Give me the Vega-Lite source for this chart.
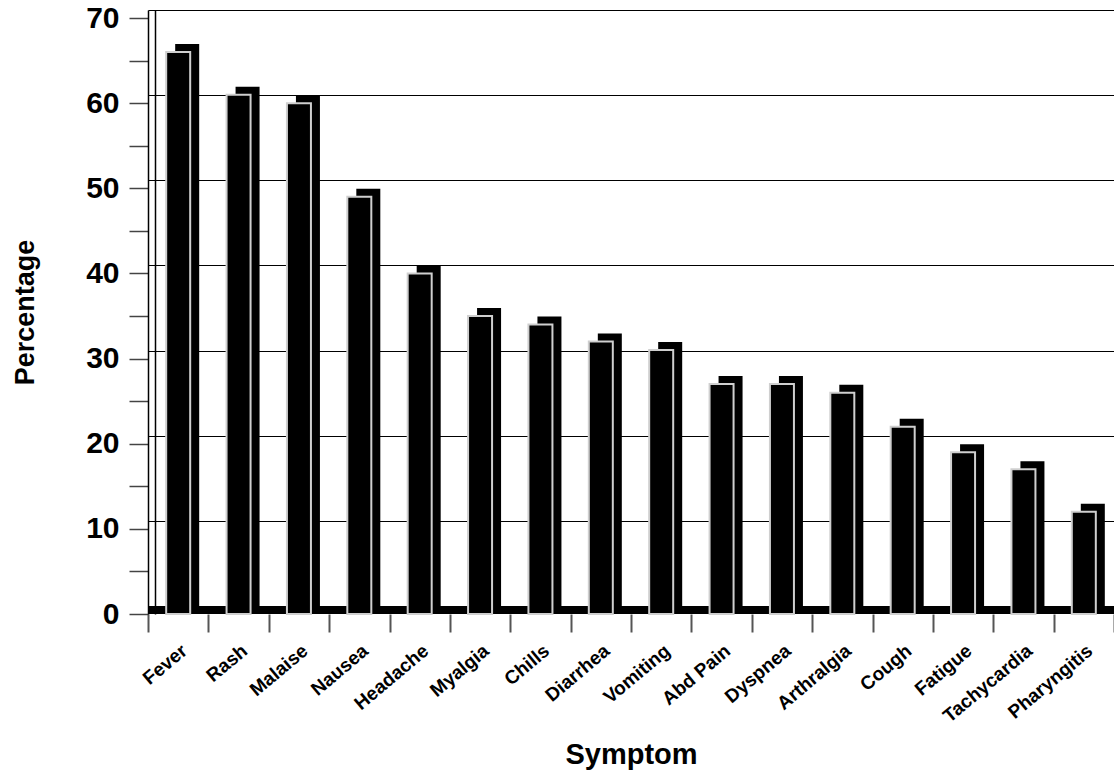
{
  "$schema": "https://vega.github.io/schema/vega-lite/v6.json",
  "width": 966,
  "height": 604,
  "autosize": {"type": "none"},
  "padding": {"left": 148, "top": 10, "right": 0, "bottom": 158},
  "config": {"view": {"stroke": null}, "font": "Liberation Sans"},
  "data": {
    "values": [
      {"symptom": "Fever", "pct": 66},
      {"symptom": "Rash", "pct": 61},
      {"symptom": "Malaise", "pct": 60},
      {"symptom": "Nausea", "pct": 49},
      {"symptom": "Headache", "pct": 40},
      {"symptom": "Myalgia", "pct": 35},
      {"symptom": "Chills", "pct": 34},
      {"symptom": "Diarrhea", "pct": 32},
      {"symptom": "Vomiting", "pct": 31},
      {"symptom": "Abd Pain", "pct": 27},
      {"symptom": "Dyspnea", "pct": 27},
      {"symptom": "Arthralgia", "pct": 26},
      {"symptom": "Cough", "pct": 22},
      {"symptom": "Fatigue", "pct": 19},
      {"symptom": "Tachycardia", "pct": 17},
      {"symptom": "Pharyngitis", "pct": 12}
    ]
  },
  "layer": [
    {
      "mark": {"type": "rule", "color": "black", "strokeWidth": 8, "yOffset": 4},
      "encoding": {
        "y": {
          "datum": 0,
          "type": "quantitative",
          "scale": {"domain": [-0.94, 70], "nice": false, "zero": false},
          "axis": {
            "orient": "left",
            "offset": -7,
            "values": [10, 20, 30, 40, 50, 60, 70],
            "labels": false,
            "ticks": false,
            "domain": true,
            "domainColor": "black",
            "domainWidth": 1.5,
            "grid": true,
            "gridColor": "black",
            "gridWidth": 1,
            "gridOpacity": 1,
            "title": null
          }
        }
      }
    },
    {
      "encoding": {
        "x": {
          "field": "symptom",
          "type": "nominal",
          "sort": null,
          "scale": {"paddingInner": 0, "paddingOuter": 0},
          "axis": {
            "tickBand": "extent",
            "tickSize": 18,
            "tickColor": "#555",
            "tickWidth": 2,
            "domain": false,
            "labelAngle": -40,
            "labelAlign": "right",
            "labelBaseline": "top",
            "labelFont": "Liberation Sans",
            "labelFontWeight": "bold",
            "labelFontSize": 19,
            "labelColor": "black",
            "labelPadding": 9,
            "labelOffset": 0,
            "title": "Symptom",
            "titleFont": "Liberation Sans",
            "titleFontSize": 29,
            "titleFontWeight": "bold",
            "titleColor": "black",
            "titlePadding": 15
          }
        },
        "y": {
          "field": "pct",
          "type": "quantitative",
          "scale": {"domain": [0, 70.94], "nice": false},
          "axis": {
            "orient": "left",
            "values": [0, 5, 10, 15, 20, 25, 30, 35, 40, 45, 50, 55, 60, 65, 70],
            "labelExpr": "datum.value % 10 === 0 ? datum.label : ''",
            "tickSize": 19,
            "tickColor": "#444",
            "tickWidth": 1.5,
            "domainColor": "black",
            "domainWidth": 1.5,
            "labelFont": "Liberation Sans",
            "labelFontWeight": "bold",
            "labelFontSize": 30,
            "labelColor": "black",
            "labelPadding": 10,
            "labelFlush": false,
            "labelOverlap": false,
            "grid": false,
            "title": "Percentage",
            "titleFont": "Liberation Sans",
            "titleFontSize": 27,
            "titleFontWeight": "bold",
            "titleColor": "black",
            "titlePadding": 46
          }
        }
      },
      "layer": [
        {"mark": {"type": "bar", "color": "black", "size": 24, "xOffset": 9, "yOffset": -8}},
        {"mark": {"type": "bar", "color": "black", "size": 24, "stroke": "#cfcfcf", "strokeWidth": 2}}
      ]
    }
  ],
  "resolve": {"scale": {"y": "independent"}, "axis": {"y": "independent"}}
}
